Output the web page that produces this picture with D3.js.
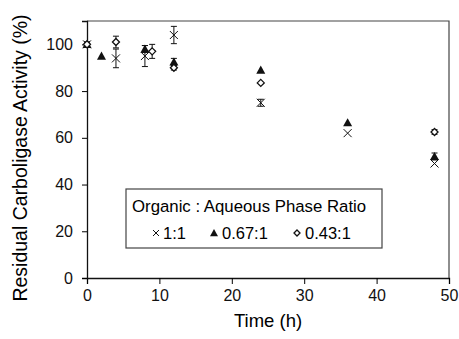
<!DOCTYPE html>
<html>
<head>
<meta charset="utf-8">
<script src="https://cdn.jsdelivr.net/npm/d3@7"></script>
<style>
  body { margin: 0; background: #fff; }
  svg { font-family: 'Liberation Sans', Arial, sans-serif; }
</style>
</head>
<body>
<div id="chart"></div>
<script>
// data
const xTicks = [0, 10, 20, 30, 40, 50];
const yTicks = [0, 20, 40, 60, 80, 100];

const ratio11Time = [0, 4, 8, 12, 24, 36, 48];
const ratio11Value = [100, 94, 95, 104, 75, 62, 49];
const ratio11Err = [1, 4, 4.5, 3.7, 1.5, 0, 0];

const ratio067Time = [0, 2, 8, 12, 24, 36, 48];
const ratio067Value = [100, 95, 98, 92.5, 89, 66.5, 52];
const ratio067Err = [0, 0, 1.5, 1.5, 0, 0, 1.5];

const ratio043Time = [0, 4, 9, 12, 24, 48];
const ratio043Value = [100, 101, 97, 90, 83.5, 62.5];
const ratio043Err = [1, 2.5, 3, 1, 0, 1];

const legendTitle = 'Organic : Aqueous Phase Ratio';
const seriesNames = ['1:1', '0.67:1', '0.43:1'];

const width = 459, height = 339;
const margin = { top: 21, right: 10, bottom: 61, left: 87 };

const svg = d3.select('#chart').append('svg')
    .attr('width', width)
    .attr('height', height);

const x = d3.scaleLinear().domain([0, 50]).range([margin.left, width - margin.right]);
const y = d3.scaleLinear().domain([0, 110]).range([height - margin.bottom, margin.top]);

// frame (top + right)
svg.append('path')
    .attr('d', `M${x(0)},${y(110)}H${x(50)}V${y(0)}`)
    .attr('fill', 'none')
    .attr('stroke', '#444')
    .attr('stroke-width', 1.2);

// x axis
const xAxis = svg.append('g')
    .attr('transform', `translate(0,${y(0)})`)
    .call(d3.axisBottom(x).tickValues(xTicks).tickSizeOuter(0).tickSize(6).tickPadding(6));
xAxis.selectAll('text').style('font-size', '16px').attr('fill', '#111');
xAxis.select('.domain').attr('stroke', '#111').attr('stroke-width', 1.3);

// y axis
const yAxis = svg.append('g')
    .attr('transform', `translate(${x(0)},0)`)
    .call(d3.axisLeft(y).tickValues(yTicks).tickSizeOuter(0).tickSize(5).tickPadding(9));
yAxis.selectAll('text').style('font-size', '16px').attr('fill', '#111');
yAxis.select('.domain').attr('stroke', '#111').attr('stroke-width', 1.3);

// titles
svg.append('text')
    .attr('x', (x(0) + x(50)) / 2)
    .attr('y', 327)
    .attr('text-anchor', 'middle')
    .style('font-size', '18.5px')
    .text('Time (h)');

svg.append('text')
    .attr('transform', `translate(27,158) rotate(-90)`)
    .attr('text-anchor', 'middle')
    .style('font-size', '19.5px')
    .text('Residual Carboligase Activity (%)');

// marker drawers
function drawCross(g, s) {
    g.append('path')
        .attr('d', `M${-s},${-s}L${s},${s}M${-s},${s}L${s},${-s}`)
        .attr('stroke', '#111').attr('stroke-width', 1).attr('fill', 'none');
}
function drawTriangle(g, s) {
    g.append('path')
        .attr('d', `M0,${-s}L${s},${s * 0.8}L${-s},${s * 0.8}Z`)
        .attr('fill', '#111');
}
function drawDiamond(g, s) {
    g.append('path')
        .attr('d', `M0,${-s}L${s},0L0,${s}L${-s},0Z`)
        .attr('fill', '#fff').attr('stroke', '#111').attr('stroke-width', 1.3);
}

function drawSeries(times, values, errs, marker, size) {
    const g = svg.append('g');
    times.forEach((t, i) => {
        const cx = x(t), cy = y(values[i]);
        if (errs[i] > 0) {
            const y1 = y(values[i] + errs[i]), y2 = y(values[i] - errs[i]);
            g.append('path')
                .attr('d', `M${cx},${y1}V${y2}M${cx - 3},${y1}H${cx + 3}M${cx - 3},${y2}H${cx + 3}`)
                .attr('stroke', '#111').attr('stroke-width', 1).attr('fill', 'none');
        }
        const m = g.append('g').attr('transform', `translate(${cx},${cy})`);
        marker(m, size);
    });
}

drawSeries(ratio11Time, ratio11Value, ratio11Err, drawCross, 4);
drawSeries(ratio067Time, ratio067Value, ratio067Err, drawTriangle, 4.5);
drawSeries(ratio043Time, ratio043Value, ratio043Err, drawDiamond, 3.5);

// legend
const legend = svg.append('g');
legend.append('rect')
    .attr('x', 126).attr('y', 189)
    .attr('width', 256).attr('height', 59)
    .attr('fill', '#fff').attr('stroke', '#444').attr('stroke-width', 1.2);
legend.append('text')
    .attr('x', 132).attr('y', 212)
    .style('font-size', '16.8px')
    .text(legendTitle);

const legendItems = [
    { marker: drawCross, size: 3, mx: 156, tx: 163 },
    { marker: drawTriangle, size: 4, mx: 214, tx: 222 },
    { marker: drawDiamond, size: 3, mx: 297, tx: 305 }
];
legendItems.forEach((d, i) => {
    const m = legend.append('g').attr('transform', `translate(${d.mx},${233})`);
    d.marker(m, d.size);
    legend.append('text')
        .attr('x', d.tx).attr('y', 239)
        .style('font-size', '16.5px')
        .text(seriesNames[i]);
});
</script>
</body>
</html>
